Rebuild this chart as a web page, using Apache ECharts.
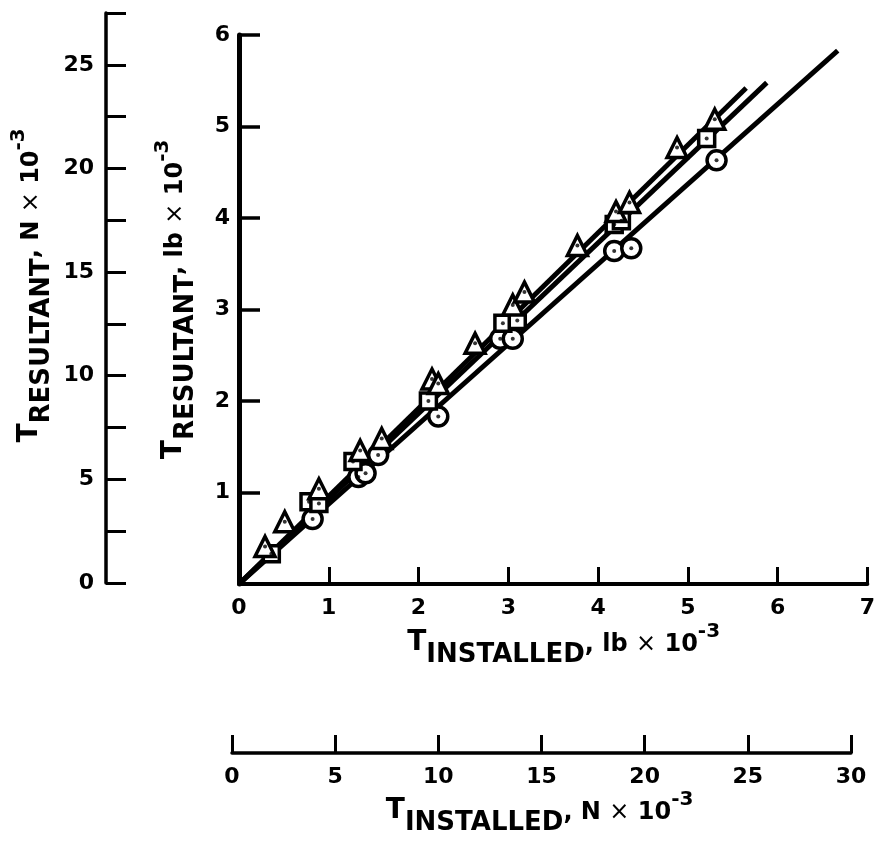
<!DOCTYPE html>
<html>
<head>
<meta charset="utf-8">
<script src="https://cdn.jsdelivr.net/npm/echarts@6/dist/echarts.min.js"></script>
<style>
html,body{margin:0;padding:0;background:#fff;}
#c{width:878px;height:850px;}
</style>
</head>
<body>
<div id="c"></div>
<script>
// ---- data (T installed, T resultant in lb x 10^-3) ----
const triX = [0.29,0.51,0.89,1.35,1.59,2.15,2.22,2.63,3.05,3.18,3.77,4.20,4.35,4.88,5.30];
const triY = [0.41,0.68,1.04,1.46,1.59,2.24,2.19,2.63,3.05,3.19,3.70,4.07,4.17,4.77,5.08];
const sqX  = [0.36,0.78,0.89,1.27,2.11,2.94,3.10,4.18,4.26,5.21];
const sqY  = [0.33,0.90,0.88,1.34,2.00,2.85,2.88,3.93,3.97,4.87];
const ciX  = [0.82,1.33,1.41,1.55,2.22,2.91,3.05,4.18,4.37,5.32];
const ciY  = [0.71,1.17,1.21,1.41,1.83,2.68,2.68,3.64,3.67,4.63];
// fitted lines (start, end)
const triLineX = [0,5.65], triLineY = [0,5.42];
const sqLineX  = [0,5.88], sqLineY  = [0,5.48];
const ciLineX  = [0,6.67], ciLineY  = [0,5.83];
// axis ranges / ticks
const lbXTicks = [0,1,2,3,4,5,6,7];
const lbYTicks = [0,1,2,3,4,5,6];
const nYMax = 27.5, nYStep = 2.5, nYLabelStep = 5;
const nXMax = 30, nXStep = 5;

const zip = (a,b) => a.map((v,i)=>[v,b[i]]);
const FONT = '"DejaVu Sans", Verdana, sans-serif';

const chart = echarts.init(document.getElementById('c'), null, {renderer:'canvas'});

const tickLbl = {color:'#000', fontFamily:FONT, fontWeight:'bold', fontSize:22};

function lineSeries(xs, ys){
  return {type:'line', xAxisIndex:0, yAxisIndex:0, data:zip(xs,ys), showSymbol:false,
    lineStyle:{color:'#000', width:5}, z:2, silent:true, animation:false};
}
function markSeries(xs, ys, symbol, size){
  return {type:'scatter', xAxisIndex:0, yAxisIndex:0, data:zip(xs,ys), symbol:symbol, symbolSize:size,
    itemStyle:{color:'#fff', borderColor:'#000', borderWidth:3.5, opacity:1}, z:4, animation:false};
}
function dotSeries(xs, ys){
  return {type:'scatter', xAxisIndex:0, yAxisIndex:0, data:zip(xs,ys), symbol:'circle', symbolSize:4,
    itemStyle:{color:'#000'}, z:5, animation:false};
}

const rich = {
  T:{fontFamily:FONT, fontSize:28, fontWeight:'bold', color:'#000', verticalAlign:'middle'},
  s:{fontFamily:FONT, fontSize:26, fontWeight:'bold', color:'#000', verticalAlign:'bottom'},
  u:{fontFamily:FONT, fontSize:24, fontWeight:'bold', color:'#000', verticalAlign:'middle', padding:[4,0,0,0]},
  x:{fontFamily:FONT, fontSize:24, fontWeight:'normal', color:'#000', verticalAlign:'middle', padding:[4,0,0,0]},
  p:{fontFamily:FONT, fontSize:20, fontWeight:'bold', color:'#000', verticalAlign:'top', padding:[4,0,0,0]},
  sp:{fontSize:10, lineHeight:50}
};
function title(txt, x, y, rot){
  return {type:'text', x:x, y:y, rotation:rot||0, z:10,
    style:{text:txt, rich:rich, align:'center', verticalAlign:'middle'}};
}

const option = {
  backgroundColor:'#fff',
  animation:false,
  grid:[
    {left:239, top:35, width:636, height:549},
    {left:106, top:13, width:1, height:570},
    {left:232, top:700, width:619, height:53}
  ],
  xAxis:[
    {gridIndex:0, type:'value', min:lbXTicks[0], max:lbXTicks[lbXTicks.length-1], interval:1,
      axisLine:{show:true, onZero:false, lineStyle:{color:'#000', width:4}},
      axisTick:{show:true, inside:true, length:17, lineStyle:{color:'#000', width:3}},
      axisLabel:{...tickLbl, margin:13}, splitLine:{show:false}},
    {gridIndex:1, type:'value', show:false, min:0, max:1},
    {gridIndex:2, type:'value', min:0, max:nXMax, interval:nXStep, position:'bottom',
      axisLine:{show:true, onZero:false, lineStyle:{color:'#000', width:3.5}},
      axisTick:{show:true, inside:true, length:18, lineStyle:{color:'#000', width:3}},
      axisLabel:{...tickLbl, margin:13}, splitLine:{show:false}}
  ],
  yAxis:[
    {gridIndex:0, type:'value', min:lbYTicks[0], max:lbYTicks[lbYTicks.length-1], interval:1,
      axisLine:{show:true, onZero:false, lineStyle:{color:'#000', width:5}},
      axisTick:{show:true, inside:true, length:21, lineStyle:{color:'#000', width:3.5}},
      axisLabel:{...tickLbl, margin:9, showMinLabel:false,
        formatter:v => v===0 ? '' : String(v)}, splitLine:{show:false}},
    {gridIndex:1, type:'value', min:0, max:nYMax, interval:nYStep,
      axisLine:{show:true, onZero:false, lineStyle:{color:'#000', width:3.5}},
      axisTick:{show:true, inside:true, length:20, lineStyle:{color:'#000', width:3}},
      axisLabel:{...tickLbl, margin:12,
        formatter:v => (Math.abs(v % nYLabelStep) < 1e-9) ? String(v) : ''}, splitLine:{show:false}},
    {gridIndex:2, type:'value', show:false, min:0, max:1}
  ],
  series:[
    lineSeries(ciLineX, ciLineY),
    lineSeries(sqLineX, sqLineY),
    lineSeries(triLineX, triLineY),
    markSeries(ciX, ciY, 'circle', 19),
    markSeries(sqX, sqY, 'rect', 16),
    markSeries(triX, triY, 'triangle', 20),
    dotSeries(ciX, ciY),
    dotSeries(sqX, sqY),
    dotSeries(triX, triY)
  ],
  graphic:[
    title('{T|T}{s|RESULTANT}{u|, N }{x|×}{u| 10}{p|-3}{sp| }', 30, 284, Math.PI/2),
    title('{T|T}{s|RESULTANT}{u|, lb }{x|×}{u| 10}{p|-3}{sp| }', 174, 298, Math.PI/2),
    title('{T|T}{s|INSTALLED}{u|, lb }{x|×}{u| 10}{p|-3}{sp| }', 565, 643, 0),
    title('{T|T}{s|INSTALLED}{u|, N }{x|×}{u| 10}{p|-3}{sp| }', 541, 811, 0)
  ]
};
chart.setOption(option);
</script>
</body>
</html>
